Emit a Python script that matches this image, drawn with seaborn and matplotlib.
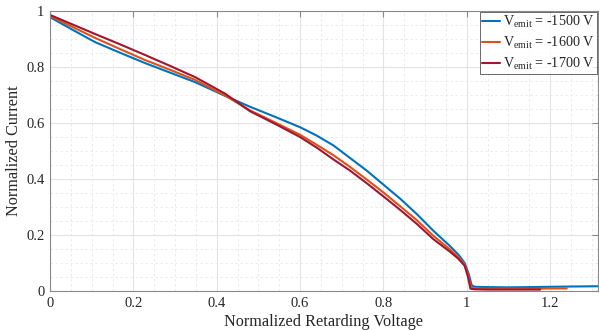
import numpy as np
import pandas as pd
import matplotlib
matplotlib.use("Agg")
import matplotlib.pyplot as plt
from matplotlib.ticker import MultipleLocator, FuncFormatter
import seaborn as sns

series_names = [r"V$_{\rm emit}$ = -1500 V", r"V$_{\rm emit}$ = -1600 V", r"V$_{\rm emit}$ = -1700 V"]
colors = ["#0072BD", "#D95319", "#A2142F"]

x_1500 = [0, 0.054, 0.108, 0.168, 0.228, 0.288, 0.348, 0.42, 0.48, 0.54, 0.6, 0.64, 0.68, 0.72, 0.76, 0.8, 0.84, 0.88, 0.92, 0.96, 0.98, 0.995, 1.005, 1.012, 1.02, 1.05, 1.1, 1.15, 1.2, 1.25, 1.315]
y_1500 = [0.978, 0.933, 0.889, 0.851, 0.814, 0.780, 0.746, 0.697, 0.658, 0.622, 0.585, 0.555, 0.52, 0.475, 0.43, 0.38, 0.33, 0.275, 0.215, 0.16, 0.13, 0.10, 0.06, 0.02, 0.015, 0.014, 0.013, 0.014, 0.015, 0.016, 0.017]

x_1600 = [0, 0.054, 0.108, 0.168, 0.228, 0.288, 0.348, 0.42, 0.48, 0.54, 0.6, 0.64, 0.68, 0.72, 0.76, 0.8, 0.84, 0.88, 0.92, 0.96, 0.98, 0.995, 1.004, 1.01, 1.02, 1.05, 1.1, 1.15, 1.2, 1.24]
y_1600 = [0.982, 0.943, 0.904, 0.864, 0.825, 0.790, 0.754, 0.698, 0.645, 0.602, 0.558, 0.522, 0.485, 0.443, 0.398, 0.352, 0.303, 0.253, 0.197, 0.148, 0.12, 0.095, 0.055, 0.012, 0.009, 0.008, 0.008, 0.008, 0.009, 0.009]

x_1700 = [0, 0.054, 0.108, 0.168, 0.228, 0.288, 0.348, 0.42, 0.48, 0.54, 0.6, 0.64, 0.68, 0.72, 0.76, 0.8, 0.84, 0.88, 0.92, 0.96, 0.98, 0.995, 1.003, 1.009, 1.02, 1.05, 1.1, 1.176]
y_1700 = [0.986, 0.952, 0.918, 0.881, 0.843, 0.804, 0.764, 0.705, 0.642, 0.597, 0.55, 0.512, 0.47, 0.43, 0.385, 0.338, 0.29, 0.24, 0.185, 0.14, 0.115, 0.09, 0.05, 0.008, 0.006, 0.005, 0.005, 0.005]

x_ticks = [0, 0.2, 0.4, 0.6, 0.8, 1.0, 1.2]
y_ticks = [0, 0.2, 0.4, 0.6, 0.8, 1.0]

df = pd.concat([
    pd.DataFrame({"x": x_1500, "y": y_1500, "s": series_names[0]}),
    pd.DataFrame({"x": x_1600, "y": y_1600, "s": series_names[1]}),
    pd.DataFrame({"x": x_1700, "y": y_1700, "s": series_names[2]}),
], ignore_index=True)

sns.set_style("white")
plt.rcParams["font.family"] = ["Liberation Serif", "DejaVu Serif"]
plt.rcParams["mathtext.fontset"] = "custom"
plt.rcParams["mathtext.rm"] = "Liberation Serif"
plt.rcParams["mathtext.it"] = "Liberation Serif:italic"

fig = plt.figure(figsize=(5.99, 3.30), dpi=100)
ax = fig.add_axes([50/599, 1-291/330, 548/599, 280/330])

sns.lineplot(data=df, x="x", y="y", hue="s", palette=colors, sort=False,
             estimator=None, linewidth=1.5, ax=ax)

ax.set_xlim(0, 1.315)
ax.set_ylim(0, 1)
ax.set_xticks(x_ticks)
ax.set_yticks(y_ticks)
fmt = FuncFormatter(lambda v, p: f"{v:g}")
ax.xaxis.set_major_formatter(fmt)
ax.yaxis.set_major_formatter(fmt)
ax.xaxis.set_minor_locator(MultipleLocator(0.05))
ax.yaxis.set_minor_locator(MultipleLocator(0.05))
ax.grid(True, which="major", color="#e3e3e3", linewidth=0.8, linestyle="-")
ax.grid(True, which="minor", color="#e8e8e8", linewidth=0.6, linestyle=(0, (3, 3)))
ax.set_axisbelow(True)
for sp in ax.spines.values():
    sp.set_color("#8a8a8a")
    sp.set_linewidth(0.8)
    sp.set_visible(True)
ax.tick_params(which="major", direction="in", length=4, width=0.8, color="#8a8a8a",
               top=True, right=True, labelsize=10.5, labelcolor="#262626", pad=4)
ax.tick_params(which="minor", length=0, top=True, right=True)

ax.set_xlabel("Normalized Retarding Voltage", fontsize=11.7, color="#262626", labelpad=3)
ax.set_ylabel("Normalized Current", fontsize=11.7, color="#262626", labelpad=3)

leg = ax.legend(loc="upper right", fontsize=10.2, frameon=True, fancybox=False,
                borderaxespad=0.1, handlelength=1.25, handletextpad=0.25,
                borderpad=0.12, labelspacing=0.35)
leg.get_frame().set_edgecolor("#262626")
leg.get_frame().set_linewidth(0.6)
for t in leg.get_texts():
    t.set_color("#262626")
leg.set_title(None)

fig.savefig("out.png", dpi=100)
